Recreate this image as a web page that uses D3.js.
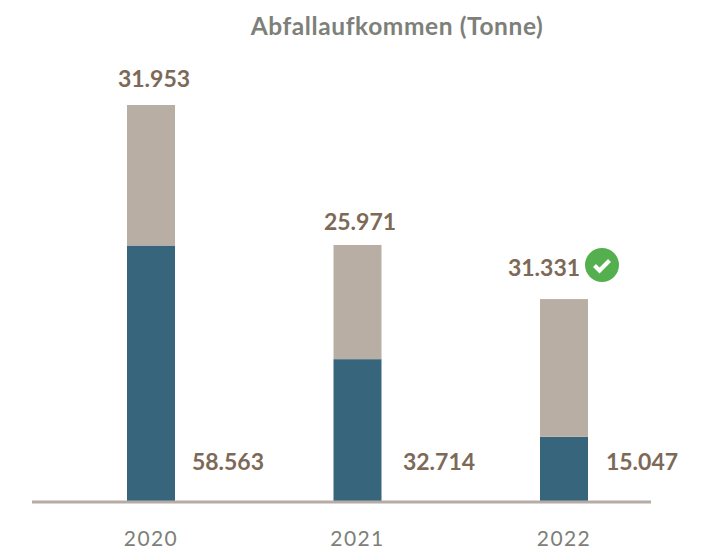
<!DOCTYPE html>
<html><head><meta charset="utf-8">
<script src="https://cdn.jsdelivr.net/npm/d3@7"></script>
<style>html,body{margin:0;padding:0;background:#fff}svg{display:block}text{font-family:Lato,sans-serif}</style>
</head><body><svg id="c" width="706" height="550"></svg>
<script>
const years = ["2020","2021","2022"];
const lower = [58563,32714,15047];
const upper = [31953,25971,31331];
const lowerLabels = ["58.563","32.714","15.047"];
const upperLabels = ["31.953","25.971","31.331"];
const title = "Abfallaufkommen (Tonne)";
const svg = d3.select("#c");
const x = d3.scaleBand().domain(years).range([127,588]).paddingInner(0.7676).paddingOuter(0);
const y = d3.scaleLinear().domain([0,90516]).range([503,105]);
const brown="#7d6957", grey="#7d8079";
svg.append("text").attr("x",397).attr("y",34.5).attr("text-anchor","middle").attr("font-size",24.5).attr("font-weight",700).attr("letter-spacing",0.6).attr("fill",grey).text(title);
svg.selectAll(".lo").data(years).join("rect").attr("x",d=>x(d)).attr("width",x.bandwidth())
 .attr("y",(d,i)=>y(lower[i])).attr("height",(d,i)=>y(0)-y(lower[i])).attr("fill","#36657c");
svg.selectAll(".up").data(years).join("rect").attr("x",d=>x(d)).attr("width",x.bandwidth())
 .attr("y",(d,i)=>y(lower[i]+upper[i])).attr("height",(d,i)=>y(lower[i])-y(lower[i]+upper[i])).attr("fill","#b9aea4");
const axis = d3.axisBottom(x).tickSize(0).tickPadding(0);
const gx = svg.append("g").attr("transform","translate(0,502)").call(axis);
gx.select(".domain").attr("d","M32,0H651").attr("stroke","#b5aca5").attr("stroke-width",3);
gx.selectAll("text").attr("y",44).attr("dy",0).attr("font-size",21).attr("font-family","Lato").attr("fill",grey).attr("letter-spacing",1.4);
const valueAttrs = s=>s.attr("font-size",23).attr("font-weight",700).attr("fill",brown);
svg.selectAll(".ul").data(years).join("text").attr("text-anchor","middle")
 .attr("x",(d,i)=>x(d)+x.bandwidth()/2+[3,2.5,-20][i])
 .attr("y",(d,i)=>[87,230,276][i]).text((d,i)=>upperLabels[i]).call(valueAttrs);
svg.selectAll(".ll").data(years).join("text").attr("text-anchor","middle")
 .attr("x",(d,i)=>x(d)+x.bandwidth()+[53,57.5,54][i]).attr("y",470).text((d,i)=>lowerLabels[i]).call(valueAttrs);
// check badge beside the 2022 total
const bx = x("2022")+x.bandwidth()/2+38, by = 265;
svg.append("circle").attr("cx",bx).attr("cy",by).attr("r",17).attr("fill","#54b04f");
svg.append("path").attr("d",d3.line()([[bx-7.5,by+0.5],[bx-2.5,by+5.5],[bx+7.5,by-4.5]])).attr("fill","none").attr("stroke","#fff").attr("stroke-width",4.2);
</script></body></html>
